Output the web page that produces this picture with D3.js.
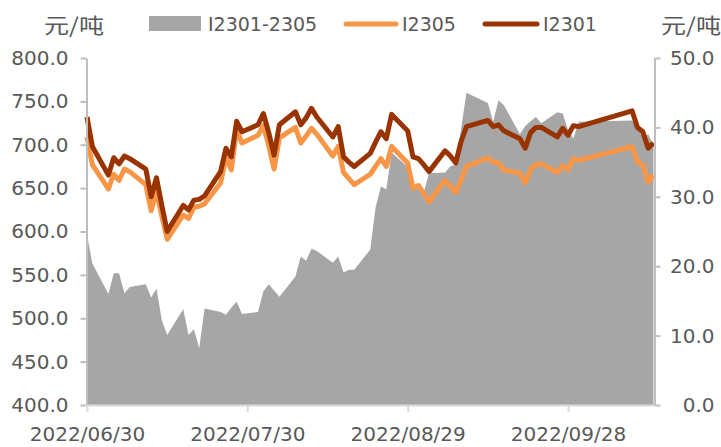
<!DOCTYPE html>
<html>
<head>
<meta charset="utf-8">
<script src="https://cdn.jsdelivr.net/npm/d3@7"></script>
<style>
  html, body { margin: 0; padding: 0; background: #fff; }
  svg { display: block; }
  text { font-family: "DejaVu Sans", sans-serif; fill: #595959; }
</style>
</head>
<body>
<svg id="chart" width="721" height="447"></svg>
<script>
// ---- data ----
const dates = [
  "2022-06-30","2022-07-01","2022-07-04","2022-07-05","2022-07-06","2022-07-07","2022-07-08",
  "2022-07-11","2022-07-12","2022-07-13","2022-07-14","2022-07-15",
  "2022-07-18","2022-07-19","2022-07-20","2022-07-21","2022-07-22",
  "2022-07-25","2022-07-26","2022-07-27","2022-07-28","2022-07-29",
  "2022-08-01","2022-08-02","2022-08-03","2022-08-04","2022-08-05",
  "2022-08-08","2022-08-09","2022-08-10","2022-08-11","2022-08-12",
  "2022-08-15","2022-08-16","2022-08-17","2022-08-18","2022-08-19",
  "2022-08-22","2022-08-23","2022-08-24","2022-08-25","2022-08-26",
  "2022-08-29","2022-08-30","2022-08-31","2022-09-01","2022-09-02",
  "2022-09-05","2022-09-06","2022-09-07","2022-09-08","2022-09-09",
  "2022-09-13","2022-09-14","2022-09-15","2022-09-16",
  "2022-09-19","2022-09-20","2022-09-21","2022-09-22","2022-09-23",
  "2022-09-26","2022-09-27","2022-09-28","2022-09-29","2022-09-30",
  "2022-10-10","2022-10-11","2022-10-12","2022-10-13","2022-10-14"
];
const i2301 = [
  732,698,665,685,678,687,684,
  672,640,662,630,600,
  630,625,636,637,641,
  669,696,686,727,715,
  723,736,714,688,723,
  738,723,731,742,732,
  709,721,686,680,675,
  690,703,715,707,735,
  716,686,684,677,669,
  693,687,679,704,721,
  728,721,723,716,
  707,696,714,720,720,
  709,719,711,722,721,
  739,720,715,696,702
];
const i2305 = [
  709,677,649,666,659,672,669,
  654,624,646,618,591,
  619,615,628,629,632,
  656,686,671,717,702,
  711,722,699,672,708,
  720,702,710,719,712,
  687,698,668,661,654,
  666,675,684,675,698,
  679,650,653,644,634,
  659,652,645,660,675,
  685,680,679,671,
  667,656,672,677,678,
  668,676,671,684,682,
  698,680,677,657,665
];
const spread = [
  24.5,20.4,16.0,19.0,19.0,16.1,17.0,
  17.4,15.5,16.8,12.2,10.1,
  13.8,10.1,10.9,8.2,13.9,
  13.4,13.0,14.0,14.9,13.1,
  13.4,16.4,17.4,16.5,15.6,
  18.5,21.4,20.8,22.5,22.2,
  20.5,21.4,19.1,19.5,19.5,
  22.4,28.5,31.5,31.1,36.4,
  34.3,31.7,31.0,30.6,33.4,
  33.5,34.4,34.6,39.8,45.0,
  43.5,40.8,43.9,43.2,
  39.0,40.2,40.9,41.5,40.6,
  42.2,42.0,39.7,38.4,40.8,
  41.0,40.0,38.5,39.0,37.5
];
const leftTicks = [400,450,500,550,600,650,700,750,800];
const rightTicks = [0,10,20,30,40,50];
const xTickDates = ["2022-06-30","2022-07-30","2022-08-29","2022-09-28"];
const seriesNames = ["I2301-2305","I2305","I2301"];
const unitLabel = "元/吨";

// ---- chart ----
const parse = d3.utcParse("%Y-%m-%d");
const data = dates.map((d,i)=>({date: parse(d), a: i2301[i], b: i2305[i], s: spread[i]}));

const svg = d3.select("#chart");
const x0 = 86.5, x1 = 654.5, yTop = 58, yBot = 405;

const x = d3.scaleUtc().domain([parse(dates[0]), parse(dates[dates.length-1])]).range([x0+0.5, x1-1]);
const yL = d3.scaleLinear().domain([400,800]).range([yBot, yTop]);
const yR = d3.scaleLinear().domain([0,50]).range([yBot, yTop]);

// area
svg.append("path")
  .datum(data)
  .attr("fill", "#A6A6A6")
  .attr("d", d3.area().x(d=>x(d.date)).y0(yR(0)).y1(d=>yR(d.s)));

// lines
const lineB = d3.line().x(d=>x(d.date)).y(d=>yL(d.b));
const lineA = d3.line().x(d=>x(d.date)).y(d=>yL(d.a));
svg.append("path").datum(data).attr("fill","none").attr("stroke","#F79646")
  .attr("stroke-width",5).attr("stroke-linejoin","round").attr("stroke-linecap","butt").attr("d", lineB);
svg.append("path").datum(data).attr("fill","none").attr("stroke","#993300")
  .attr("stroke-width",5).attr("stroke-linejoin","round").attr("stroke-linecap","butt").attr("d", lineA);

// axes
const fmt = d3.format(".1f");
const gL = svg.append("g").attr("transform", `translate(${x0},0)`)
  .call(d3.axisLeft(yL).tickValues(leftTicks).tickFormat(fmt).tickSize(6).tickSizeOuter(0).tickPadding(12));
const gR = svg.append("g").attr("transform", `translate(${x1},0)`)
  .call(d3.axisRight(yR).tickValues(rightTicks).tickFormat(fmt).tickSize(6).tickSizeOuter(0).tickPadding(12));
const gX = svg.append("g").attr("transform", `translate(0,${yBot})`)
  .call(d3.axisBottom(x).tickValues(xTickDates.map(parse)).tickFormat(d3.utcFormat("%Y/%m/%d")).tickSize(7).tickSizeOuter(0).tickPadding(12));

[gL, gR].forEach(g=>{
  g.select(".domain").attr("stroke","#BFBFBF").attr("stroke-width",2);
  g.selectAll(".tick line").attr("stroke","#BFBFBF").attr("stroke-width",2);
  g.selectAll(".tick text").attr("font-size",20).attr("fill","#595959")
    .style("font-family","DejaVu Sans");
});
gR.selectAll(".tick text").attr("text-anchor","end").attr("x", 60);
gX.select(".domain").attr("stroke","#D9D9D9").attr("stroke-width",2);
gX.selectAll(".tick line").attr("stroke","#D9D9D9").attr("stroke-width",2);
gX.selectAll(".tick text").attr("font-size",20).attr("fill","#595959").attr("dy","0.85em")
  .style("font-family","DejaVu Sans");

// unit labels
svg.append("text").attr("x",44).attr("y",33).attr("font-size",21)
  .attr("textLength",60).attr("lengthAdjust","spacingAndGlyphs")
  .style("font-family","Noto Sans CJK SC").text(unitLabel);
svg.append("text").attr("x",661).attr("y",33).attr("font-size",21)
  .attr("textLength",60).attr("lengthAdjust","spacingAndGlyphs")
  .style("font-family","Noto Sans CJK SC").text(unitLabel);

// legend
const lg = svg.append("g");
lg.append("rect").attr("x",149).attr("y",16).attr("width",52).attr("height",15).attr("fill","#A6A6A6");
lg.append("text").attr("x",208).attr("y",31).attr("font-size",19).text(seriesNames[0]);
lg.append("line").attr("x1",346).attr("x2",396).attr("y1",24).attr("y2",24)
  .attr("stroke","#F79646").attr("stroke-width",5).attr("stroke-linecap","round");
lg.append("text").attr("x",402).attr("y",31).attr("font-size",19).text(seriesNames[1]);
lg.append("line").attr("x1",485).attr("x2",537).attr("y1",24).attr("y2",24)
  .attr("stroke","#993300").attr("stroke-width",5).attr("stroke-linecap","round");
lg.append("text").attr("x",543).attr("y",31).attr("font-size",19).text(seriesNames[2]);
</script>
</body>
</html>
